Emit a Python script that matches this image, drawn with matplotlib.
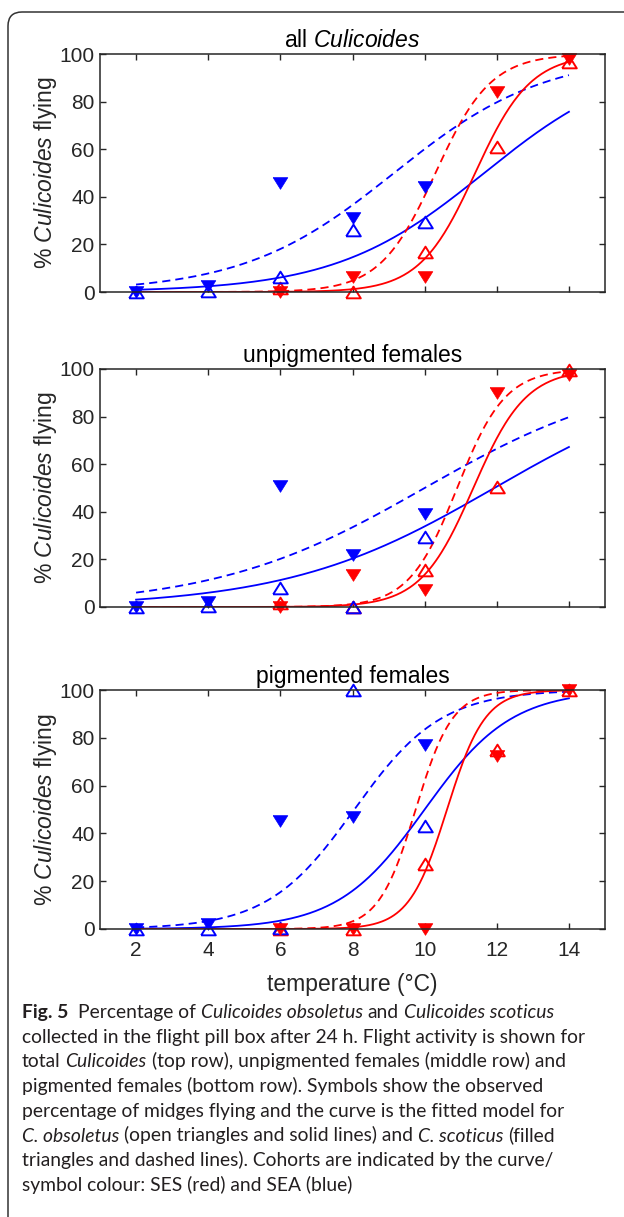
import matplotlib
matplotlib.use('Agg')
import matplotlib.pyplot as plt
import numpy as np
from matplotlib.patches import FancyBboxPatch
from matplotlib.transforms import IdentityTransform

plt.rcParams['font.family'] = ['Liberation Sans', 'DejaVu Sans']
plt.rcParams['mathtext.fontset'] = 'custom'
plt.rcParams['mathtext.rm'] = 'Liberation Sans'
plt.rcParams['mathtext.it'] = 'Liberation Sans:italic'

# ---- data ----
titles = ['all $\\it{Culicoides}$', 'unpigmented females', 'pigmented females']
sea_temp = [2, 4, 6, 8, 10]        # SEA cohort (blue)
ses_temp = [6, 8, 10, 12, 14]      # SES cohort (red)

# observed % flying, one row per panel
sea_obs = [[0, 0.5, 6.5, 26, 29.5],
           [0, 0.3, 8, 0, 29.5],
           [0, 0, 0.5, 100, 43]]
sea_sco = [[0, 2.5, 46, 31, 44],
           [0, 2, 51, 22, 39],
           [0, 2, 45, 47, 77]]
ses_obs = [[1.5, 0, 17, 61, 96.5],
           [1.5, 0, 15.7, 50.5, 99.5],
           [0, 0, 27, 75, 100]]
ses_sco = [[0, 6.3, 6.3, 84, 98],
           [0, 13.5, 7, 90, 97.5],
           [0, 0, 0, 72.5, 100]]

# fitted logistic curves: midpoint (deg C) and slope, per panel
sea_obs_mid = [11.65, 11.93, 10.0]
sea_obs_slope = [0.484, 0.347, 0.83]
sea_sco_mid = [9.15, 10.0, 8.05]
sea_sco_slope = [0.48, 0.343, 0.83]
ses_obs_mid = [11.4, 11.35, 10.62]
ses_obs_slope = [1.3, 1.37, 1.9]
ses_sco_mid = [10.3, 10.9, 9.75]
ses_sco_slope = [1.3, 1.5, 1.95]

caption = [
    [('Fig. 5', 'b'), ('  Percentage of ', 'n'), ('Culicoides obsoletus', 'i'),
     (' and ', 'n'), ('Culicoides scoticus', 'i')],
    [('collected in the flight pill box after 24 h. Flight activity is shown for', 'n')],
    [('total ', 'n'), ('Culicoides', 'i'), (' (top row), unpigmented females (middle row) and', 'n')],
    [('pigmented females (bottom row). Symbols show the observed', 'n')],
    [('percentage of midges flying and the curve is the fitted model for', 'n')],
    [('C. obsoletus', 'i'), (' (open triangles and solid lines) and ', 'n'),
     ('C. scoticus', 'i'), (' (filled', 'n')],
    [('triangles and dashed lines). Cohorts are indicated by the curve/', 'n')],
    [('symbol colour: SES (red) and SEA (blue)', 'n')],
]

W, H = 624, 1217
fig = plt.figure(figsize=(W / 100, H / 100), dpi=100)

# axes boxes in pixels: left, top, right, bottom
boxes = [(100, 54, 605, 292), (100, 369, 605, 607), (100, 690, 605, 929)]
dark = '#262626'
tt = np.linspace(2, 14, 300)

# MATLAB-like triangles: a bit wider than tall
tri_up = [(-1, -0.8), (1, -0.8), (0, 0.8), (-1, -0.8)]
tri_dn = [(-1, 0.8), (1, 0.8), (0, -0.8), (-1, 0.8)]
ms = 10.5


def logistic(t, mid, slope):
    return 100.0 / (1.0 + np.exp(-slope * (t - mid)))


for i, (l, t, r, b) in enumerate(boxes):
    ax = fig.add_axes([l / W, 1 - b / H, (r - l) / W, (b - t) / H])
    ax.plot(tt, logistic(tt, sea_obs_mid[i], sea_obs_slope[i]), color='blue', lw=1.3)
    ax.plot(tt, logistic(tt, sea_sco_mid[i], sea_sco_slope[i]), color='blue', lw=1.3,
            dashes=(4.5, 2.8))
    ax.plot(tt, logistic(tt, ses_obs_mid[i], ses_obs_slope[i]), color='red', lw=1.3)
    ax.plot(tt, logistic(tt, ses_sco_mid[i], ses_sco_slope[i]), color='red', lw=1.3,
            dashes=(4.5, 2.8))

    ax.plot(ses_temp, ses_obs[i], ls='none', marker=tri_up, ms=ms, mfc='none', mec='red',
            mew=1.4, clip_on=False)
    ax.plot(sea_temp, sea_obs[i], ls='none', marker=tri_up, ms=ms, mfc='none', mec='blue',
            mew=1.4, clip_on=False)
    ax.plot(ses_temp, ses_sco[i], ls='none', marker=tri_dn, ms=ms, color='red', mew=0.5,
            clip_on=False)
    ax.plot(sea_temp, sea_sco[i], ls='none', marker=tri_dn, ms=ms, color='blue', mew=0.5,
            clip_on=False)

    ax.set_xlim(1, 15)
    ax.set_ylim(0, 100)
    ax.set_xticks(range(2, 15, 2))
    ax.set_yticks(range(0, 101, 20))
    ax.tick_params(direction='in', top=True, right=True, length=4, width=1,
                   colors=dark, labelsize=15)
    ax.tick_params(axis='x', pad=9)
    ax.tick_params(axis='y', pad=4)
    for s in ax.spines.values():
        s.set_color(dark)
        s.set_linewidth(1.1)
    ax.set_title(titles[i], fontsize=16.5, pad=5)
    ax.set_ylabel('% $\\it{Culicoides}$ flying', fontsize=16.5, color=dark, labelpad=0)
    if i < 2:
        ax.tick_params(labelbottom=False)
    else:
        ax.set_xlabel('temperature (\u00b0C)', fontsize=16.5, color=dark, labelpad=9)

# rounded frame around the figure panel (runs off the right and bottom edges)
frame = FancyBboxPatch((8, -800), 2000, H - 12 + 800,
                       boxstyle='round,pad=0,rounding_size=14', fill=False,
                       ec='#333333', lw=1.1, transform=IdentityTransform())
fig.add_artist(frame)

# caption
renderer = fig.canvas.get_renderer()
cap_font = ['Lato', 'DejaVu Sans']
cap_size = 13.9
probe1 = fig.text(0, 0, 'a a', fontsize=cap_size, family=cap_font)
probe2 = fig.text(0, 0, 'aa', fontsize=cap_size, family=cap_font)
space_w = probe1.get_window_extent(renderer).width - probe2.get_window_extent(renderer).width
probe1.remove()
probe2.remove()

y0, dy = 1018, 24.7
for n, line in enumerate(caption):
    x = 22.0
    y = y0 + n * dy
    for txt, st in line:
        lead = len(txt) - len(txt.lstrip(' '))
        trail = len(txt) - len(txt.rstrip(' '))
        x += lead * space_w
        core = txt.strip(' ')
        t = fig.text(x / W, 1 - y / H, core, fontsize=cap_size, family=cap_font,
                     fontweight='bold' if st == 'b' else 'normal',
                     fontstyle='italic' if st == 'i' else 'normal',
                     color='#231f20', ha='left', va='baseline')
        x += t.get_window_extent(renderer).width + trail * space_w

fig.savefig('out.png', dpi=100)
